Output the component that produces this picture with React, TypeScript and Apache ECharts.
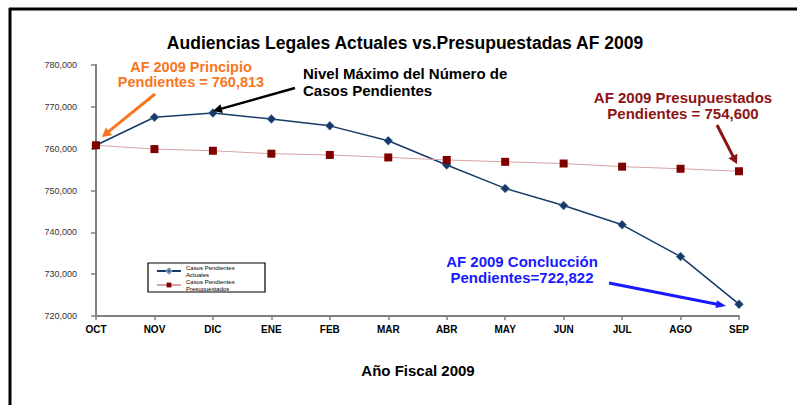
import React, { useEffect, useRef } from "react";
import * as echarts from "echarts";

const months = ["OCT", "NOV", "DIC", "ENE", "FEB", "MAR", "ABR", "MAY", "JUN", "JUL", "AGO", "SEP"];
const actuales = [760813, 767500, 768500, 767100, 765450, 761900, 756100, 750500, 746400, 741800, 734200, 722822];
const presupuestados = [760813, 759900, 759500, 758800, 758500, 757900, 757300, 756850, 756450, 755700, 755200, 754600];
const yTicks = { min: 720000, max: 780000, interval: 10000 };

const FONT = "'Liberation Sans', Arial, sans-serif";

function arrow(x1: number, y1: number, x2: number, y2: number, color: string, width: number, headLen: number, headW: number) {
  const dx = x2 - x1;
  const dy = y2 - y1;
  const len = Math.sqrt(dx * dx + dy * dy);
  const ux = dx / len;
  const uy = dy / len;
  const bx = x2 - ux * headLen;
  const by = y2 - uy * headLen;
  const px = -uy * headW;
  const py = ux * headW;
  return [
    {
      type: "line",
      shape: { x1, y1, x2: bx + ux * 1, y2: by + uy * 1 },
      style: { stroke: color, lineWidth: width },
      z: 100,
    },
    {
      type: "polygon",
      shape: { points: [[x2, y2], [bx + px, by + py], [bx - px, by - py]] },
      style: { fill: color },
      z: 100,
    },
  ];
}

function txt(x: number, y: number, text: string, color: string, size: number, lh: number, align: string = "center") {
  return {
    type: "text",
    x,
    y,
    z: 100,
    style: {
      text,
      fill: color,
      font: `bold ${size}px ${FONT}`,
      textAlign: align,
      textVerticalAlign: "middle",
      lineHeight: lh,
    },
  };
}

export default function App() {
  const ref = useRef<HTMLDivElement>(null);
  useEffect(() => {
    if (!ref.current) return;
    const chart = echarts.init(ref.current, undefined, { renderer: "svg" });
    const orange = "#f7761f";
    const black = "#000000";
    const red = "#8b1414";
    const blue = "#1a1aff";
    const graphic: any[] = [
      { type: "line", shape: { x1: 10, y1: 8, x2: 10, y2: 405 }, style: { stroke: "#000", lineWidth: 3 } },
      { type: "line", shape: { x1: 9, y1: 9, x2: 797, y2: 9 }, style: { stroke: "#000", lineWidth: 3 } },
      txt(405, 43, "Audiencias Legales Actuales vs.Presupuestadas AF 2009", "#000", 17.5, 20),
      txt(191, 74.5, "AF 2009 Principio\nPendientes = 760,813", orange, 14.5, 15),
      ...arrow(155, 94, 102, 137, orange, 3, 9, 5),
      txt(303, 81.5, "Nivel Máximo del Número de\nCasos Pendientes", black, 15, 17, "left"),
      ...arrow(295, 88, 213, 111, black, 2.5, 9, 4.5),
      txt(683, 105.5, "AF 2009 Presupuestados\nPendientes = 754,600", red, 15, 15.5),
      ...arrow(717, 125, 737, 164, red, 3, 9, 5),
      txt(522, 269, "AF 2009 Conclucción\nPendientes=722,822", blue, 15, 16),
      ...arrow(609, 283, 726, 306, blue, 3, 10, 4),
      txt(418, 370, "Año Fiscal 2009", "#000", 15, 17),
      {
        type: "rect",
        shape: { x: 148, y: 263, width: 117, height: 29 },
        style: { fill: "#fff", stroke: "#000", lineWidth: 1.2 },
        z: 50,
      },
    ];
    chart.setOption({
      animation: false,
      backgroundColor: "#fff",
      grid: { left: 96, right: 58, top: 65, bottom: 89, containLabel: false },
      graphic,
      legend: {
        orient: "vertical",
        left: 155,
        top: 263,
        padding: 1,
        itemGap: 0,
        itemWidth: 24,
        itemHeight: 6,
        z: 60,
        textStyle: { fontSize: 6, lineHeight: 7, fontFamily: FONT, color: "#000" },
        data: ["Casos Pendientes\nActuales", "Casos Pendientes\nPresupuestados"],
      },
      xAxis: {
        type: "category",
        data: months,
        boundaryGap: false,
        axisLine: { lineStyle: { color: "#808080", width: 2 } },
        axisTick: { show: true, length: 4, lineStyle: { color: "#808080", width: 1.5 } },
        axisLabel: { fontSize: 10, fontWeight: "bold", color: "#000", fontFamily: FONT, margin: 8 },
        splitLine: { show: false },
      },
      yAxis: {
        type: "value",
        min: yTicks.min,
        max: yTicks.max,
        interval: yTicks.interval,
        axisLine: { show: true, lineStyle: { color: "#808080", width: 2 } },
        axisTick: { show: true, length: 5, lineStyle: { color: "#808080", width: 1.5 } },
        axisLabel: {
          fontSize: 9,
          color: "#333",
          fontFamily: FONT,
          margin: 19,
          formatter: (v: number) => v.toLocaleString("en-US"),
        },
        splitLine: { show: false },
      },
      series: [
        {
          name: "Casos Pendientes\nActuales",
          type: "line",
          data: actuales,
          symbol: "diamond",
          symbolSize: 9,
          color: "#173a68",
          lineStyle: { color: "#173a68", width: 1.5 },
          itemStyle: { color: "#173a68", borderColor: "#6f8fb5", borderWidth: 0.5 },
          z: 3,
        },
        {
          name: "Casos Pendientes\nPresupuestados",
          type: "line",
          data: presupuestados,
          symbol: "rect",
          symbolSize: 8,
          color: "#800000",
          lineStyle: { color: "#d9a3a3", width: 1 },
          itemStyle: { color: "#800000" },
          z: 4,
        },
      ],
    });
    return () => chart.dispose();
  }, []);
  return <div ref={ref} style={{ position: "fixed", left: 0, top: 0, width: 797, height: 405 }} />;
}
